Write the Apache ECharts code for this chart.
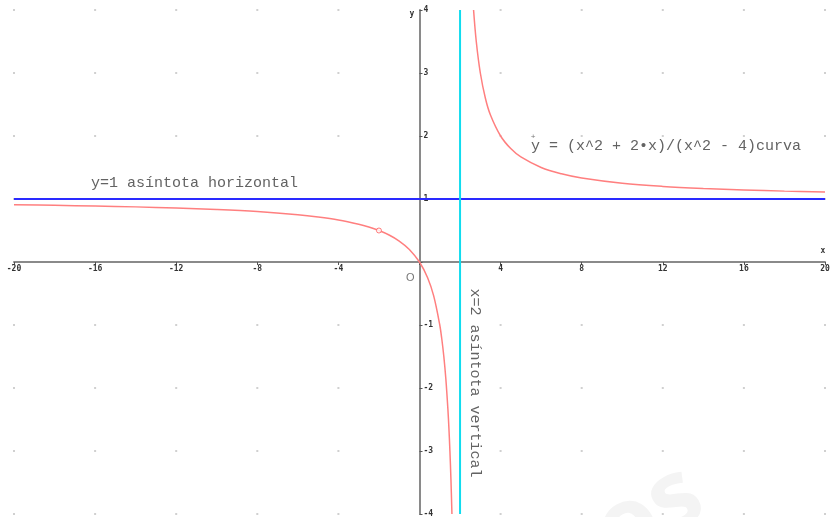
<!DOCTYPE html>
<html>
<head>
<meta charset="utf-8">
<script src="https://cdn.jsdelivr.net/npm/echarts@6/dist/echarts.min.js"></script>
<style>
  html, body { margin: 0; padding: 0; background: #fff; }
  #chart { width: 838px; height: 517px; }
</style>
</head>
<body>
<div id="chart"></div>
<script>
// Axis ranges and tick labels
const xTicks = [-20, -16, -12, -8, -4, 0, 4, 8, 12, 16, 20];
const yTicks = [-4, -3, -2, -1, 0, 1, 2, 3, 4];

// y = (x^2 + 2x)/(x^2 - 4): branch left of the vertical asymptote
const leftBranch = [
  [-20, 0.909], [-18, 0.9], [-16, 0.889], [-14, 0.875], [-12, 0.857],
  [-10, 0.833], [-8, 0.8], [-6, 0.75], [-5, 0.714], [-4, 0.667],
  [-3, 0.6], [-2.5, 0.556], [-2, 0.5], [-1.5, 0.429], [-1, 0.333],
  [-0.5, 0.2], [0, 0], [0.4, -0.25], [0.7, -0.538], [1, -1],
  [1.1, -1.222], [1.2, -1.5], [1.3, -1.857], [1.4, -2.333],
  [1.45, -2.636], [1.5, -3], [1.55, -3.444], [1.6, -4]
];
// branch right of the vertical asymptote
const rightBranch = [
  [2.667, 4], [2.8, 3.5], [3, 3], [3.25, 2.6], [3.5, 2.333],
  [4, 2], [4.5, 1.8], [5, 1.667], [6, 1.5], [7, 1.4], [8, 1.333],
  [10, 1.25], [12, 1.2], [14, 1.167], [16, 1.143], [18, 1.125], [20, 1.111]
];
// removable discontinuity (hole) of the curve
const holePoint = [[-2, 0.5]];

// asymptotes
const asymptoteX = 2;
const asymptoteY = 1;

// grid dots every 4 units on x and every unit on y
const dotXs = [-20, -16, -12, -8, -4, 4, 8, 12, 16, 20];
const dotYs = [-4, -3, -2, -1, 1, 2, 3, 4];

const chart = echarts.init(document.getElementById('chart'), null, { renderer: 'canvas' });

const dots = [];
dotXs.forEach(x => dotYs.forEach(y => dots.push([x, y])));

// plot area
const G = { left: 14, right: 13, top: 10, bottom: 3 };
const plotW = 838 - G.left - G.right;
const plotH = 517 - G.top - G.bottom;
const xMin = xTicks[0], xMax = xTicks[xTicks.length - 1];
const yMin = yTicks[0], yMax = yTicks[yTicks.length - 1];
// shift both axes so that they cross at the origin
const xAxisOffset = -plotH * (0 - yMin) / (yMax - yMin);
const yAxisOffset = -plotW * (0 - xMin) / (xMax - xMin);

const mono = '"Liberation Mono", "DejaVu Sans Mono", monospace';
const tickFont = { fontFamily: '"DejaVu Sans Mono", monospace', fontSize: 8, fontWeight: 'bold', color: '#333' };

const curveStyle = { color: '#ff7f7f', width: 1.5 };

chart.setOption({
  animation: false,
  backgroundColor: '#fff',
  grid: Object.assign({ containLabel: false, outerBoundsMode: 'none' }, G),
  xAxis: {
    type: 'value', min: xMin, max: xMax, interval: 4,
    position: 'bottom', offset: xAxisOffset,
    axisLine: { onZero: false, lineStyle: { color: '#8a8a8a', width: 2 } },
    axisTick: { show: true, length: 3, lineStyle: { color: '#555', width: 1 } },
    axisLabel: {
      ...tickFont, margin: 3, showMinLabel: true, showMaxLabel: true,
      formatter: v => (v === 0 ? '' : String(v))
    },
    splitLine: { show: false }
  },
  yAxis: {
    type: 'value', min: yMin, max: yMax, interval: 1,
    position: 'left', offset: yAxisOffset,
    axisLine: { onZero: false, lineStyle: { color: '#8a8a8a', width: 2 } },
    axisTick: { show: true, length: 3, inside: true, lineStyle: { color: '#555', width: 1 } },
    axisLabel: {
      ...tickFont, inside: true, margin: 4, showMinLabel: true, showMaxLabel: true,
      formatter: v => (v === 0 ? '' : String(v))
    },
    splitLine: { show: false }
  },
  series: [
    {
      type: 'scatter', data: dots, symbol: 'rect', symbolSize: 2, silent: true, z: 1,
      itemStyle: { color: '#c4c4c4' }
    },
    {
      type: 'line', data: [[xMin, asymptoteY], [xMax, asymptoteY]],
      showSymbol: false, silent: true, z: 3,
      lineStyle: { color: '#2a2aff', width: 2 }
    },
    {
      type: 'line', data: [[asymptoteX, yMin], [asymptoteX, yMax]],
      showSymbol: false, silent: true, z: 3,
      lineStyle: { color: '#10dcef', width: 2 }
    },
    {
      type: 'line', data: leftBranch, showSymbol: false, smooth: 0.35, silent: true, z: 4,
      clip: true, lineStyle: curveStyle
    },
    {
      type: 'line', data: rightBranch, showSymbol: false, smooth: 0.35, silent: true, z: 4,
      clip: true, lineStyle: curveStyle
    },
    {
      type: 'scatter', data: holePoint, symbol: 'circle', symbolSize: 5, silent: true, z: 5,
      itemStyle: { color: '#fff', borderColor: '#ff5a5a', borderWidth: 1 }
    }
  ]
});

// Text annotations placed in data coordinates
const px = (x, y) => chart.convertToPixel({ gridIndex: 0 }, [x, y]);
const textStyle = (text, extra) => Object.assign({
  text, fill: '#636363', font: '15px ' + mono
}, extra || {});

const hLabel = px(-16.2, 1.25);
const fLabel = px(5.5, 1.84);
const vLabel = px(2.75, -0.42);
const origin = px(-0.45, -0.26);
const xName = px(19.9, 0.12);
const yName = px(-0.25, 3.93);
const mark = px(5.6, 1.98);

chart.setOption({
  graphic: [
    { type: 'text', x: hLabel[0], y: hLabel[1], style: textStyle('y=1 asíntota horizontal', { verticalAlign: 'middle' }) },
    { type: 'text', x: fLabel[0], y: fLabel[1], style: textStyle('y = (x^2 + 2•x)/(x^2 - 4)curva', { verticalAlign: 'middle' }) },
    { type: 'text', x: vLabel[0], y: vLabel[1], rotation: -Math.PI / 2,
      style: textStyle('x=2 asíntota vertical', { verticalAlign: 'middle' }) },
    { type: 'text', x: origin[0], y: origin[1], style: { text: 'O', fill: '#777', font: '11px "Liberation Sans", sans-serif', align: 'center', verticalAlign: 'middle' } },
    { type: 'text', x: xName[0], y: xName[1], style: { text: 'x', fill: '#333', font: 'bold 8px "DejaVu Sans Mono", monospace', align: 'center', verticalAlign: 'bottom' } },
    { type: 'text', x: yName[0], y: yName[1], style: { text: 'y', fill: '#333', font: 'bold 8px "DejaVu Sans Mono", monospace', align: 'right', verticalAlign: 'middle' } },
    { type: 'text', x: mark[0], y: mark[1], style: { text: '+', fill: '#777', font: '8px ' + mono, align: 'center', verticalAlign: 'middle' } },
    { type: 'text', x: 650, y: 515, rotation: Math.PI / 6, z: -1,
      style: { text: 'os', fill: '#f4f4f4', font: 'bold 95px "Open Sans", sans-serif', align: 'center', verticalAlign: 'middle' } }
  ]
});
</script>
</body>
</html>
